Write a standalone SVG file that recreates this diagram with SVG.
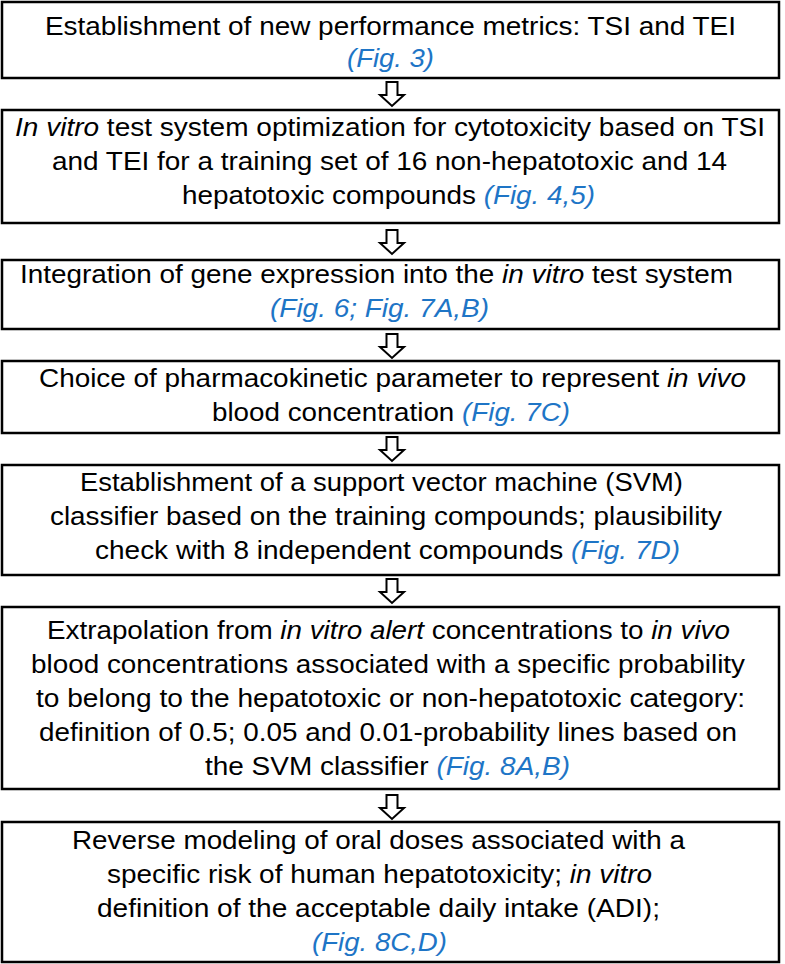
<svg xmlns="http://www.w3.org/2000/svg" xmlns:xlink="http://www.w3.org/1999/xlink" width="785" height="964" viewBox="0 0 785 964">
<style>
.box{fill:#fff;stroke:#000;stroke-width:2.5}
text{font-family:"Liberation Sans",Arial,sans-serif;font-size:26px;fill:#000}
.i{font-style:italic}
.f{font-style:italic;fill:#1e75c6}
.arr{fill:#fff;stroke:#000;stroke-width:2;stroke-linejoin:miter}
</style>
<defs>
<path id="arrow" d="M-5.5,0 H5.5 V13 H12 L0,24 L-12,13 H-5.5 Z"/>
</defs>
<rect x="0" y="0" width="785" height="964" fill="#fff"/>
<g id="connectors">
<use xlink:href="#arrow" class="arr" transform="translate(392,82)"/>
<use xlink:href="#arrow" class="arr" transform="translate(392,230)"/>
<use xlink:href="#arrow" class="arr" transform="translate(392,334)"/>
<use xlink:href="#arrow" class="arr" transform="translate(392,437)"/>
<use xlink:href="#arrow" class="arr" transform="translate(392,579)"/>
<use xlink:href="#arrow" class="arr" transform="translate(392,795)"/>
</g>
<g id="node1">
<rect class="box" x="2" y="2" width="777" height="76"/>
<text x="45" y="35" textLength="691" lengthAdjust="spacingAndGlyphs">Establishment of new performance metrics: TSI and TEI</text>
<text x="347" y="67" textLength="87" lengthAdjust="spacingAndGlyphs" class="f">(Fig. 3)</text>
</g>
<g id="node2">
<rect class="box" x="2" y="110" width="777" height="113"/>
<text x="15" y="136" textLength="750" lengthAdjust="spacingAndGlyphs"><tspan class="i">In vitro</tspan> test system optimization for cytotoxicity based on TSI</text>
<text x="52" y="170" textLength="675" lengthAdjust="spacingAndGlyphs">and TEI for a training set of 16 non-hepatotoxic and 14</text>
<text x="182" y="204" textLength="413" lengthAdjust="spacingAndGlyphs">hepatotoxic compounds <tspan class="f">(Fig. 4,5)</tspan></text>
</g>
<g id="node3">
<rect class="box" x="2" y="260" width="777" height="69"/>
<text x="20" y="283" textLength="713" lengthAdjust="spacingAndGlyphs">Integration of gene expression into the <tspan class="i">in vitro</tspan> test system</text>
<text x="270" y="317" textLength="219" lengthAdjust="spacingAndGlyphs" class="f">(Fig. 6; Fig. 7A,B)</text>
</g>
<g id="node4">
<rect class="box" x="2" y="361" width="777" height="72"/>
<text x="39" y="387" textLength="707" lengthAdjust="spacingAndGlyphs">Choice of pharmacokinetic parameter to represent <tspan class="i">in vivo</tspan></text>
<text x="212" y="421" textLength="358" lengthAdjust="spacingAndGlyphs">blood concentration <tspan class="f">(Fig. 7C)</tspan></text>
</g>
<g id="node5">
<rect class="box" x="2" y="465" width="777" height="110"/>
<text x="80" y="491" textLength="603" lengthAdjust="spacingAndGlyphs">Establishment of a support vector machine (SVM)</text>
<text x="50" y="525" textLength="672" lengthAdjust="spacingAndGlyphs">classifier based on the training compounds; plausibility</text>
<text x="95" y="559" textLength="585" lengthAdjust="spacingAndGlyphs">check with 8 independent compounds <tspan class="f">(Fig. 7D)</tspan></text>
</g>
<g id="node6">
<rect class="box" x="2" y="607" width="777" height="182"/>
<text x="47" y="639" textLength="683" lengthAdjust="spacingAndGlyphs">Extrapolation from <tspan class="i">in vitro alert</tspan> concentrations to <tspan class="i">in vivo</tspan></text>
<text x="31" y="673" textLength="714" lengthAdjust="spacingAndGlyphs">blood concentrations associated with a specific probability</text>
<text x="36" y="707" textLength="709" lengthAdjust="spacingAndGlyphs">to belong to the hepatotoxic or non-hepatotoxic category:</text>
<text x="39" y="741" textLength="698" lengthAdjust="spacingAndGlyphs">definition of 0.5; 0.05 and 0.01-probability lines based on</text>
<text x="205" y="775" textLength="365" lengthAdjust="spacingAndGlyphs">the SVM classifier <tspan class="f">(Fig. 8A,B)</tspan></text>
</g>
<g id="node7">
<rect class="box" x="2" y="822" width="777" height="140"/>
<text x="72" y="849" textLength="613" lengthAdjust="spacingAndGlyphs">Reverse modeling of oral doses associated with a</text>
<text x="107" y="883" textLength="545" lengthAdjust="spacingAndGlyphs">specific risk of human hepatotoxicity; <tspan class="i">in vitro</tspan></text>
<text x="97" y="917" textLength="563" lengthAdjust="spacingAndGlyphs">definition of the acceptable daily intake (ADI);</text>
<text x="312" y="951" textLength="135" lengthAdjust="spacingAndGlyphs" class="f">(Fig. 8C,D)</text>
</g>
</svg>
